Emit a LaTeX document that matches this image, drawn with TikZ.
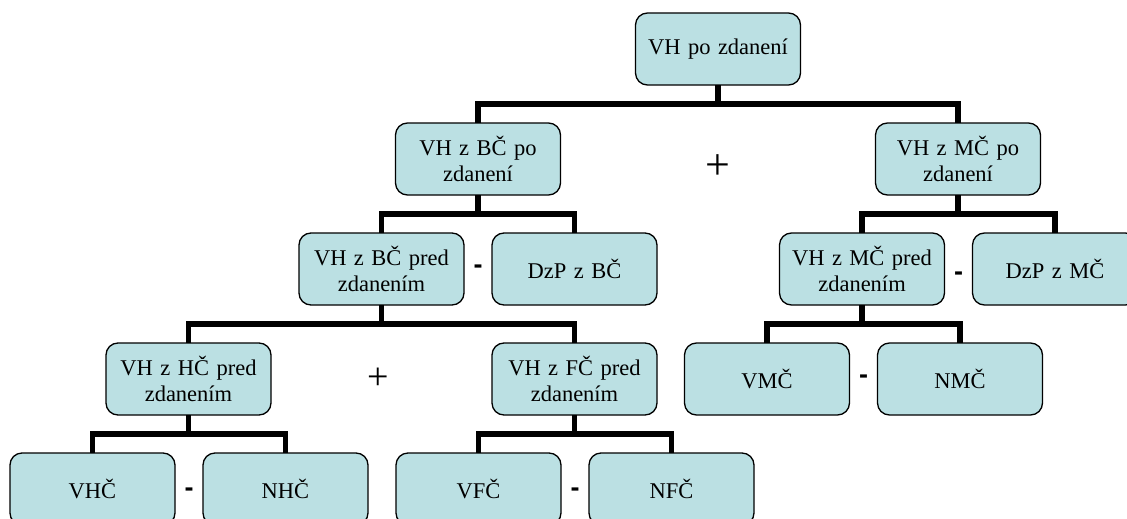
\documentclass[tikz,border=0pt]{standalone}
\usepackage{fontspec}
\setmainfont{Liberation Serif}
\newfontfamily\signfont{Liberation Sans}
\usetikzlibrary{positioning, calc}
\definecolor{boxBlue}{HTML}{BBE0E3}

\begin{document}
\begin{tikzpicture}[
  x=1pt, y=1pt,
  font=\fontsize{22.5}{26}\selectfont,
  node distance=38pt and 28pt,
  box/.style={draw=black, line width=1.3pt, rounded corners=12pt, fill=boxBlue,
              align=center, text width=150pt, inner xsep=7.5pt, inner ysep=0pt,
              minimum height=72pt, outer sep=0pt},
  link/.style={line width=5.5pt, draw=black},
  minus/.style={font=\signfont\bfseries\fontsize{27}{27}\selectfont, inner sep=0pt},
  plus/.style={font=\fontsize{44}{44}\selectfont, inner sep=0pt}
]
\clip (0,0) rectangle (1127,-519);

% tree of boxes
\node[box] (root) at (718,-49) {VH po zdanení};
\node[box, below=of root, xshift=-240pt] (bcpo) {VH z BČ po\\zdanení};
\node[box, below=of root, xshift=240pt] (mcpo) {VH z MČ po\\zdanení};

\node[box, below=of bcpo, xshift=-96.5pt] (bcpred) {VH z BČ pred\\zdanením};
\node[box, right=of bcpred] (dzpbc) {DzP z BČ};
\node[box, below=of mcpo, xshift=-96pt] (mcpred) {VH z MČ pred\\zdanením};
\node[box, right=of mcpred] (dzpmc) {DzP z MČ};

\node[box, below=of bcpred, xshift=-193pt] (hcpred) {VH z HČ pred\\zdanením};
\node[box, below=of bcpred, xshift=193pt] (fcpred) {VH z FČ pred\\zdanením};
\node[box, below=of mcpred, xshift=-95pt] (vmc) {VMČ};
\node[box, right=of vmc] (nmc) {NMČ};

\node[box, below=of hcpred, xshift=-96pt] (vhc) {VHČ};
\node[box, right=of vhc] (nhc) {NHČ};
\node[box, below=of fcpred, xshift=-96pt] (vfc) {VFČ};
\node[box, right=of vfc] (nfc) {NFČ};

% connectors
\draw[link] (root.south) -- ++(0,-19) -| (bcpo.north);
\draw[link] (root.south) -- ++(0,-19) -| (mcpo.north);
\draw[link] (bcpo.south) -- ++(0,-19) -| (bcpred.north);
\draw[link] (bcpo.south) -- ++(0,-19) -| (dzpbc.north);
\draw[link] (mcpo.south) -- ++(0,-19) -| (mcpred.north);
\draw[link] (mcpo.south) -- ++(0,-19) -| (dzpmc.north);
\draw[link] (bcpred.south) -- ++(0,-19) -| (hcpred.north);
\draw[link] (bcpred.south) -- ++(0,-19) -| (fcpred.north);
\draw[link] (mcpred.south) -- ++(0,-19) -| (vmc.north);
\draw[link] (mcpred.south) -- ++(0,-19) -| (nmc.north);
\draw[link] (hcpred.south) -- ++(0,-19) -| (vhc.north);
\draw[link] (hcpred.south) -- ++(0,-19) -| (nhc.north);
\draw[link] (fcpred.south) -- ++(0,-19) -| (vfc.north);
\draw[link] (fcpred.south) -- ++(0,-19) -| (nfc.north);

% operators
\node[plus, yshift=-8pt] (plusbm) at ($(bcpo.east)!0.5!(mcpo.west)$) {+};
\node[plus, xshift=-3pt, font=\fontsize{38}{38}\selectfont] (plushf) at ($(hcpred.east)!0.5!(fcpred.west)$) {+};
\node[minus] (minusbc) at ($(bcpred.east)!0.5!(dzpbc.west)$) {-};
\node[minus, yshift=-7pt] (minusmc) at ($(mcpred.east)!0.5!(dzpmc.west)$) {-};
\node[minus] (minusm) at ($(vmc.east)!0.5!(nmc.west)$) {-};
\node[minus, yshift=-3pt] (minush) at ($(vhc.east)!0.5!(nhc.west)$) {-};
\node[minus, yshift=-3pt] (minusf) at ($(vfc.east)!0.5!(nfc.west)$) {-};

\end{tikzpicture}
\end{document}
